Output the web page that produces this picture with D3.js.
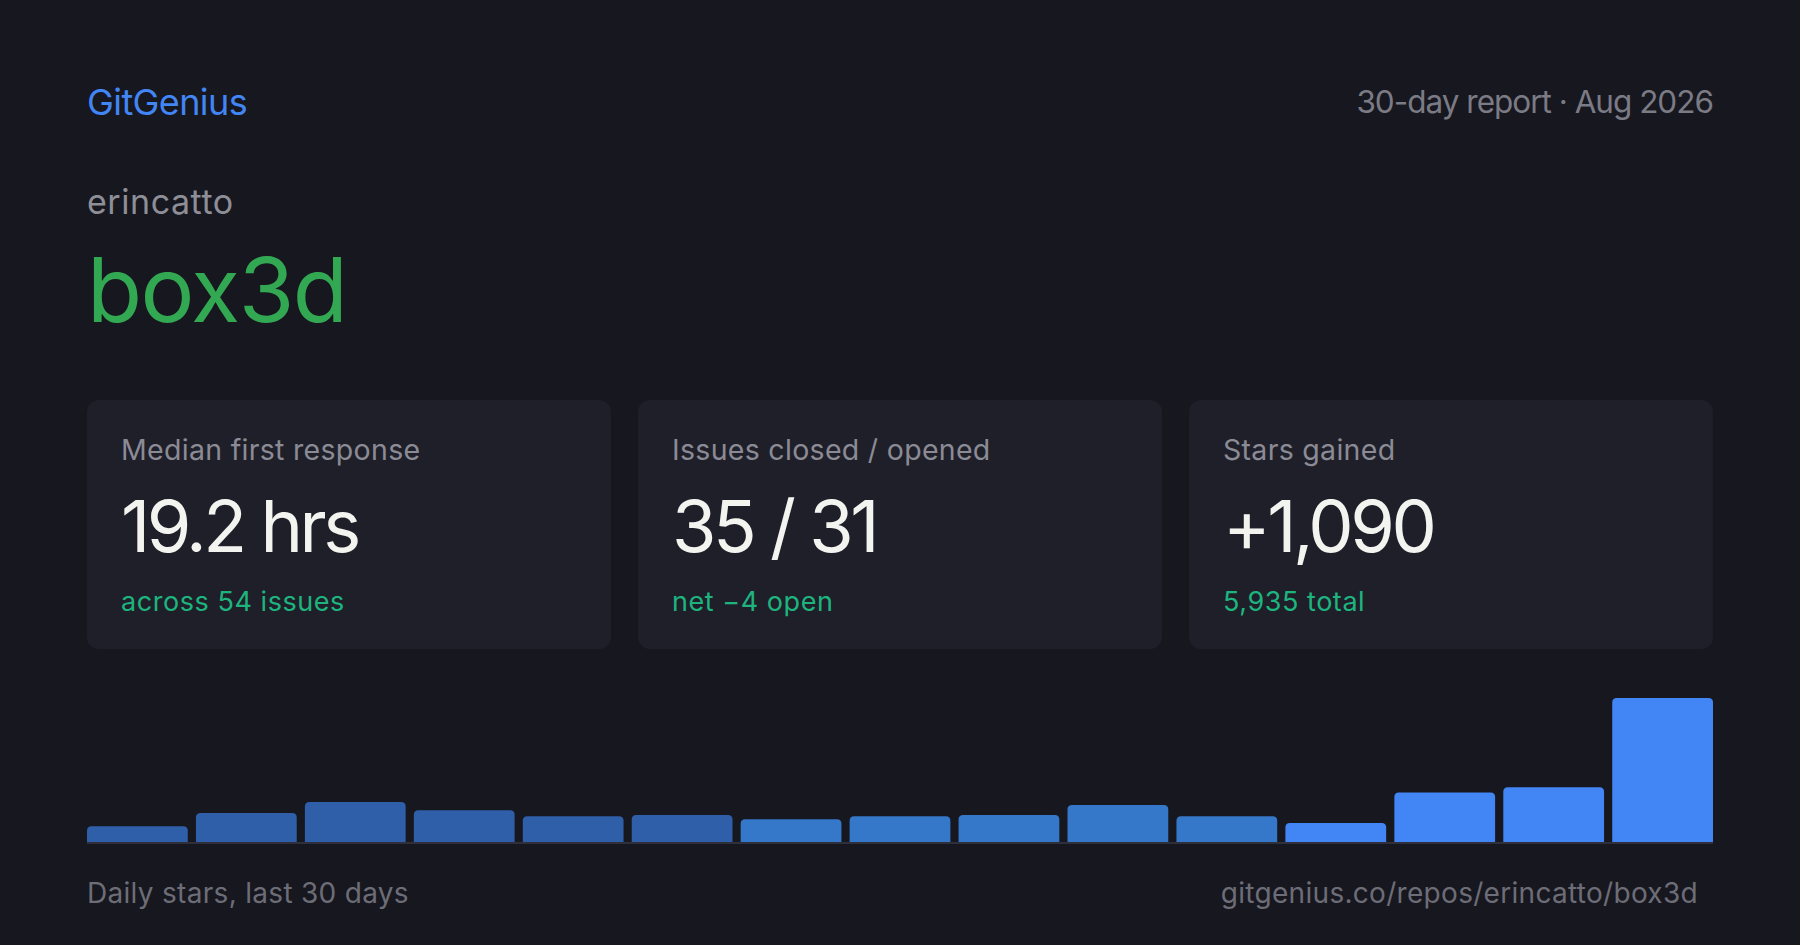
<!DOCTYPE html>
<html>
<head>
<meta charset="utf-8">
<script src="https://cdn.jsdelivr.net/npm/d3@7"></script>
<style>
  html, body { margin: 0; padding: 0; background: #17171f; }
  svg { display: block; font-family: Inter, "Noto Sans", sans-serif; }
</style>
</head>
<body>
<div id="card"></div>
<script>
'use strict'

// report header
const brand = 'GitGenius';
const reportTitle = '30-day report \u00b7 Aug 2026';
const owner = 'erincatto';
const repo = 'box3d';

// stat cards
const statLabels = ['Median first response', 'Issues closed / opened', 'Stars gained'];
const statValues = ['19.2 hrs', '35 / 31', '+1,090'];
const statNotes = ['across 54 issues', 'net \u22124 open', '5,935 total'];

// daily stars, 2-day buckets over the last 30 days
const dailyStars = [30, 55, 76, 60, 49, 51, 43, 49, 51, 70, 49, 36, 94, 104, 273];

const footLeft = 'Daily stars, last 30 days';
const footRight = 'gitgenius.co/repos/erincatto/box3d';

const W = 1800, H = 945;
const margin = {left: 87, right: 87};
const innerW = W - margin.left - margin.right;

const svg = d3.select('#card')
  .append('svg')
    .attr('width', W)
    .attr('height', H);

svg.append('rect')
  .attr('width', W)
  .attr('height', H)
  .attr('fill', '#17171f');

// header
svg.append('text')
  .attr('x', margin.left)
  .attr('y', 115)
  .attr('font-size', 36)
  .attr('letter-spacing', -0.6)
  .attr('fill', '#4285f4')
  .text(brand);

svg.append('text')
  .attr('x', W - margin.right)
  .attr('y', 113)
  .attr('text-anchor', 'end')
  .attr('font-size', 31.5)
  .attr('letter-spacing', -1)
  .attr('fill', '#7b7b85')
  .text(reportTitle);

svg.append('text')
  .attr('x', margin.left)
  .attr('y', 214)
  .attr('font-size', 34)
  .attr('letter-spacing', 0.55)
  .attr('fill', '#8e8e97')
  .text(owner);

svg.append('text')
  .attr('x', margin.left)
  .attr('y', 322)
  .attr('font-size', 90)
  .attr('letter-spacing', -1.5)
  .attr('fill', '#33a852')
  .text(repo);

// stat cards
const cardX = d3.scaleBand()
  .domain(d3.range(statLabels.length))
  .range([margin.left, W - margin.right])
  .paddingInner(0.049)
  .paddingOuter(0);

const cardTop = 400, cardH = 249, cardPad = 34;

const cards = svg.append('g')
  .attr('id', 'cards')
  .selectAll('g')
  .data(statLabels)
  .enter()
  .append('g')
    .attr('transform', (d, i) => 'translate(' + cardX(i) + ',' + cardTop + ')');

cards.append('rect')
  .attr('width', cardX.bandwidth())
  .attr('height', cardH)
  .attr('rx', 12)
  .attr('fill', '#1f1f2a');

cards.append('text')
  .attr('x', cardPad)
  .attr('y', 60)
  .attr('font-size', 28.5)
  .attr('letter-spacing', 0.3)
  .attr('fill', '#8b8b95')
  .text(d => d);

cards.append('text')
  .attr('x', cardPad)
  .attr('y', 152)
  .attr('font-size', 72)
  .attr('letter-spacing', -3.5)
  .attr('fill', '#f3f3ef')
  .text((d, i) => statValues[i]);

cards.append('text')
  .attr('x', cardPad)
  .attr('y', 211)
  .attr('font-size', 27)
  .attr('letter-spacing', 0.55)
  .attr('fill', '#1eb47e')
  .text((d, i) => statNotes[i]);

// bar chart
const baseY = 842, chartH = 144;

const x = d3.scaleBand()
  .domain(d3.range(dailyStars.length))
  .range([margin.left, W - margin.right])
  .paddingInner(0.075)
  .paddingOuter(0);

const y = d3.scaleLinear()
  .domain([0, d3.max(dailyStars)])
  .range([baseY, baseY - chartH]);

// older buckets are dimmer
function barColor(i) {
  if (i < 6) return '#2f5fa9';
  if (i < 11) return '#3577c9';
  return '#4285f4';
}

// rect with rounded top corners only
function topRounded(x0, y0, w, h, r) {
  r = Math.min(r, h, w / 2);
  return 'M' + x0 + ',' + (y0 + h) +
    'V' + (y0 + r) +
    'Q' + x0 + ',' + y0 + ' ' + (x0 + r) + ',' + y0 +
    'H' + (x0 + w - r) +
    'Q' + (x0 + w) + ',' + y0 + ' ' + (x0 + w) + ',' + (y0 + r) +
    'V' + (y0 + h) + 'Z';
}

svg.append('g')
  .attr('id', 'bars')
  .selectAll('path')
  .data(dailyStars)
  .enter()
  .append('path')
    .attr('d', (d, i) => topRounded(x(i), y(d), x.bandwidth(), baseY - y(d), 4.5))
    .attr('fill', (d, i) => barColor(i));

svg.append('rect')
  .attr('x', margin.left)
  .attr('y', baseY)
  .attr('width', innerW)
  .attr('height', 2)
  .attr('fill', '#2e2f3a');

// footer
svg.append('text')
  .attr('x', margin.left)
  .attr('y', 903)
  .attr('font-size', 28)
  .attr('letter-spacing', 0.3)
  .attr('fill', '#6d6d77')
  .text(footLeft);

svg.append('text')
  .attr('x', 1698)
  .attr('y', 903)
  .attr('text-anchor', 'end')
  .attr('font-size', 28)
  .attr('letter-spacing', 0.3)
  .attr('fill', '#6d6d77')
  .text(footRight);
</script>
</body>
</html>
